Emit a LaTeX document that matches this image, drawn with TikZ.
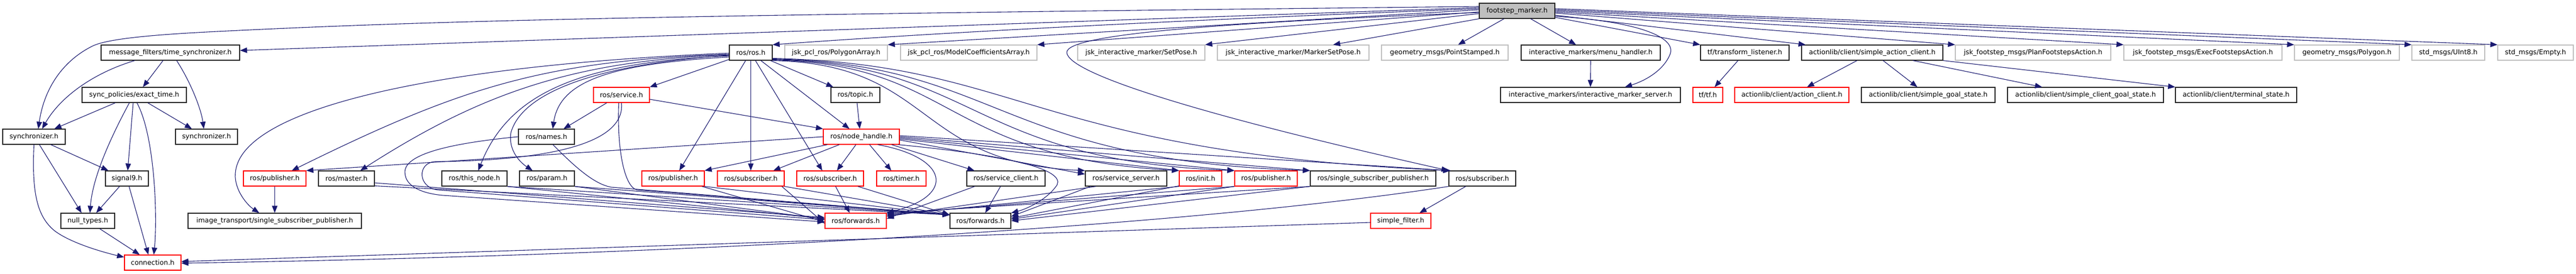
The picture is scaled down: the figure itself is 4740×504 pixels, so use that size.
\documentclass[tikz,border=0pt]{standalone}
\usepackage{fontspec}
\setmainfont{DejaVu Sans}
\usetikzlibrary{arrows.meta,calc}
\definecolor{edgec}{HTML}{191970}
\definecolor{grayb}{HTML}{BFBFBF}
\newcommand\nfs{\fontsize{6.2pt}{7pt}\selectfont}
\begin{document}
\begin{tikzpicture}[x=0.5pt,y=-0.5pt,
  nb/.style={draw=black!85, line width=0.6pt, fill=white, minimum height=14pt, inner sep=0pt, font=\nfs, text=black},
  nr/.style={nb, draw=red},
  ng/.style={nb, draw=grayb},
  nroot/.style={nb, fill=grayb},
  e/.style={draw=edgec, line width=0.55pt, -{Triangle[length=6.5pt,width=5pt]}}]
\path[use as bounding box, fill=white] (0,0) rectangle (4740,504);
% row 0
\node[nroot, minimum width=69.5pt] (fm) at (2791.5,20) {footstep\_marker.h};
% row 1
\node[nb, minimum width=127.5pt] (tsync) at (313.5,97) {message\_filters/time\_synchronizer.h};
\node[nb, minimum width=39.5pt] (ros) at (1381.5,97) {ros/ros.h};
\node[ng, minimum width=94.5pt] (polyarr) at (1538.5,97) {jsk\_pcl\_ros/PolygonArray.h};
\node[ng, minimum width=125.5pt] (modelco) at (1782.5,97) {jsk\_pcl\_ros/ModelCoefficientsArray.h};
\node[ng, minimum width=117pt] (setpose) at (2100,97) {jsk\_interactive\_marker/SetPose.h};
\node[ng, minimum width=139.5pt] (msetpose) at (2379.5,97) {jsk\_interactive\_marker/MarkerSetPose.h};
\node[ng, minimum width=116.5pt] (ptst) at (2658.5,97) {geometry\_msgs/PointStamped.h};
\node[nb, minimum width=128pt] (menu) at (2927,97) {interactive\_markers/menu\_handler.h};
\node[nb, minimum width=81.5pt] (tfl) at (3210.5,97) {tf/transform\_listener.h};
\node[nb, minimum width=130pt] (sac) at (3445,97) {actionlib/client/simple\_action\_client.h};
\node[ng, minimum width=143pt] (plan) at (3741,97) {jsk\_footstep\_msgs/PlanFootstepsAction.h};
\node[ng, minimum width=145.5pt] (exec) at (4053.5,97) {jsk\_footstep\_msgs/ExecFootstepsAction.h};
\node[ng, minimum width=96.5pt] (poly) at (4318.5,97) {geometry\_msgs/Polygon.h};
\node[ng, minimum width=67pt] (uint8) at (4505,97) {std\_msgs/UInt8.h};
\node[ng, minimum width=69.5pt] (empty) at (4665.5,97) {std\_msgs/Empty.h};
% row 2
\node[nb, minimum width=96pt] (exact) at (247,175) {sync\_policies/exact\_time.h};
\node[nr, minimum width=51.5pt] (service) at (1143.5,175) {ros/service.h};
\node[nb, minimum width=45pt] (topic) at (1574,175) {ros/topic.h};
\node[nb, minimum width=165.5pt] (ims) at (2926.5,175) {interactive\_markers/interactive\_marker\_server.h};
\node[nr, minimum width=27.5pt] (tf) at (3142.5,175) {tf/tf.h};
\node[nr, minimum width=105pt] (ac) at (3297,175) {actionlib/client/action\_client.h};
\node[nb, minimum width=123pt] (sgs) at (3548,175) {actionlib/client/simple\_goal\_state.h};
\node[nb, minimum width=143.5pt] (scgs) at (3837.5,175) {actionlib/client/simple\_client\_goal\_state.h};
\node[nb, minimum width=111.5pt] (ts) at (4114.5,175) {actionlib/client/terminal\_state.h};
% row 3
\node[nb, minimum width=57.5pt] (syncA) at (62.5,252) {synchronizer.h};
\node[nb, minimum width=57pt] (syncB) at (380,252) {synchronizer.h};
\node[nb, minimum width=51.5pt] (names) at (1005.5,252) {ros/names.h};
\node[nr, minimum width=70pt] (nh) at (1585,252) {ros/node\_handle.h};
% row 4
\node[nb, minimum width=39.5pt] (signal9) at (233.5,329) {signal9.h};
\node[nr, minimum width=57.5pt] (pubA) at (505.5,329) {ros/publisher.h};
\node[nb, minimum width=51.5pt] (master) at (637.5,329) {ros/master.h};
\node[nb, minimum width=60pt] (thisnode) at (873,329) {ros/this\_node.h};
\node[nb, minimum width=50.5pt] (param) at (1006.5,329) {ros/param.h};
\node[nr, minimum width=57.5pt] (pubB) at (1238.5,329) {ros/publisher.h};
\node[nr, minimum width=61.5pt] (subA) at (1381.5,329) {ros/subscriber.h};
\node[nr, minimum width=61.5pt] (subB) at (1527.5,329) {ros/subscriber.h};
\node[nr, minimum width=45.5pt] (timer) at (1658.5,329) {ros/timer.h};
\node[nb, minimum width=72pt] (sclient) at (1851,329) {ros/service\_client.h};
\node[nb, minimum width=75pt] (sserver) at (2072,329) {ros/service\_server.h};
\node[nr, minimum width=39pt] (init) at (2209,329) {ros/init.h};
\node[nr, minimum width=57.5pt] (pubC) at (2329.5,329) {ros/publisher.h};
\node[nb, minimum width=115.5pt] (ssp) at (2526.5,329) {ros/single\_subscriber\_publisher.h};
\node[nb, minimum width=61.5pt] (subC) at (2727.5,329) {ros/subscriber.h};
% row 5
\node[nb, minimum width=49.5pt] (nulltypes) at (161.5,407) {null\_types.h};
\node[nb, minimum width=159.5pt] (itssp) at (505.5,407) {image\_transport/single\_subscriber\_publisher.h};
\node[nr, minimum width=56.5pt] (fwdR) at (1574.5,407) {ros/forwards.h};
\node[nb, minimum width=56pt] (fwdB) at (1804,407) {ros/forwards.h};
\node[nr, minimum width=55.5pt] (sfilter) at (2577.5,407) {simple\_filter.h};
% row 6
\node[nr, minimum width=52pt] (conn) at (281,484) {connection.h};

% ---- edges from footstep_marker.h
\draw[e] ($(fm.west)+(0,-6)$) -- ($(tsync.east)+(0,-4)$);
\draw[e] ($(fm.west)+(0,-8)$) .. controls (1200,28) and (800,38) .. (400,58) .. controls (300,63) and (200,70) .. (170,85) .. controls (110,115) and (80,170) .. ($(syncA.north)+(8,0)$);
\draw[e] ($(fm.west)+(0,-4)$) .. controls (2100,40) and (1700,62) .. (ros.north east);
\draw[e] ($(fm.west)+(0,-2)$) -- (polyarr.north east);
\draw[e] ($(fm.west)+(0,2)$) -- (modelco.north east);
\draw[e] ($(fm.west)+(0,5)$) -- (setpose.north east);
\draw[e] ($(fm.west)+(0,3)$) .. controls (2300,40) and (1960,60) .. (1963,97) .. controls (1966,135) and (2200,210) .. (subC.north west);
\draw[e] (fm.south west) -- ($(msetpose.north)+(73.5,0)$);
\draw[e] ($(fm.south)+(-24,0)$) -- ($(ptst.north)+(24.5,0)$);
\draw[e] ($(fm.south)+(25,0)$) -- ($(menu.north)+(-27,0)$);
\draw[e] ($(fm.east)+(0,10)$) .. controls (3020,40) and (3085,70) .. (3073,100) .. controls (3062,128) and (3030,148) .. ($(ims.north)+(63.5,0)$);
\draw[e] ($(fm.east)+(0,12)$) -- (tfl.north west);
\draw[e] ($(fm.east)+(0,8)$) -- ($(sac.north west)+(8,0)$);
\draw[e] ($(fm.east)+(0,4)$) -- (plan.north west);
\draw[e] ($(fm.east)+(0,2)$) -- (exec.north west);
\draw[e] (fm.east) -- (poly.north west);
\draw[e] ($(fm.east)+(0,-2)$) -- (uint8.north west);
\draw[e] ($(fm.east)+(0,-4)$) -- (empty.north west);

% ---- message_filters cluster
\draw[e] ($(tsync.south)+(-65.5,0)$) .. controls (170,135) and (110,180) .. ($(syncA.north)+(15,0)$);
\draw[e] ($(tsync.south)+(-13.5,0)$) -- ($(exact.north)+(16,0)$);
\draw[e] ($(tsync.south)+(11.5,0)$) .. controls (350,150) and (370,200) .. ($(syncB.north)+(-5,0)$);
\draw[e] ($(exact.south)+(-35,0)$) -- ($(syncA.north)+(37.5,0)$);
\draw[e] ($(exact.south)+(-9,0)$) .. controls (200,260) and (170,330) .. ($(nulltypes.north)+(4,0)$);
\draw[e] ($(exact.south)+(-2,0)$) -- ($(signal9.north)+(1.5,0)$);
\draw[e] ($(exact.south)+(5,0)$) .. controls (285,250) and (290,400) .. ($(conn.north)+(2,0)$);
\draw[e] ($(exact.south)+(25,0)$) -- ($(syncB.north)+(-27,0)$);
\draw[e] ($(syncA.south)+(31,0)$) -- ($(signal9.north west)+(6,0)$);
\draw[e] ($(syncA.south)+(10,0)$) -- ($(nulltypes.north)+(-11.5,0)$);
\draw[e] (syncA.south) .. controls (58,360) and (70,400) .. (100,425) .. controls (130,448) and (190,465) .. ($(conn.west)+(0,-10)$);
\draw[e] ($(signal9.south)+(-13.5,0)$) -- ($(nulltypes.north)+(15.5,0)$);
\draw[e] ($(signal9.south)+(4,0)$) -- ($(conn.north)+(-8,0)$);
\draw[e] ($(nulltypes.south)+(22,0)$) -- ($(conn.north)+(-24,0)$);

% ---- ros/ros.h
\draw[e] ($(ros.south west)+(0,-2)$) -- (service.north east);
\draw[e] ($(ros.west)+(0,8)$) .. controls (1120,118) and (1030,150) .. ($(names.north)+(11.5,0)$);
\draw[e] ($(ros.west)+(0,6)$) .. controls (1060,115) and (935,175) .. ($(thisnode.north)+(7,0)$);
\draw[e] ($(ros.west)+(0,5)$) .. controls (1100,118) and (960,170) .. (940,245) .. controls (935,278) and (958,300) .. ($(param.north)+(-26.5,0)$);
\draw[e] ($(ros.west)+(0,3)$) .. controls (1000,112) and (850,160) .. ($(pubA.north)+(31.5,0)$);
\draw[e] ($(ros.west)+(0,4)$) .. controls (1050,112) and (880,175) .. ($(master.north)+(25.5,0)$);
\draw[e] ($(ros.west)+(0,1)$) .. controls (800,120) and (440,200) .. (433,320) .. controls (431,350) and (455,378) .. ($(itssp.north)+(-28.5,0)$);
\draw[e] ($(ros.south)+(-9.5,0)$) -- ($(pubB.north)+(11.5,0)$);
\draw[e] (ros.south) -- (subA.north);
\draw[e] ($(ros.south)+(8.5,0)$) -- ($(subB.north)+(-14.5,0)$);
\draw[e] ($(ros.south)+(18.5,0)$) -- ($(nh.north)+(-22,0)$);
\draw[e] ($(ros.south east)+(-4,0)$) -- ($(topic.north west)+(5,0)$);
\draw[e] (ros.south east) .. controls (1720,118) and (1680,300) .. (sserver.north west);
\draw[e] ($(ros.south east)+(0,-1)$) .. controls (1760,118) and (1730,290) .. (init.north west);
\draw[e] ($(ros.south east)+(0,-2)$) .. controls (1800,118) and (1780,295) .. (pubC.north west);
\draw[e] ($(ros.south east)+(0,-3)$) .. controls (1840,118) and (1830,295) .. (ssp.north west);
\draw[e] ($(ros.south east)+(0,-4)$) .. controls (1880,118) and (1900,280) .. ($(subC.north west)+(4,0)$);

% ---- topic, service, names
\draw[e] ($(topic.south)+(3,0)$) -- ($(nh.north)+(-3,0)$);
\draw[e] ($(service.south west)+(25,0)$) -- ($(names.north)+(31.5,0)$);
\draw[e] ($(service.east)+(0,8)$) -- (nh.north west);
\draw[e] (service.south) .. controls (1150,250) and (1060,295) .. (800,298) .. controls (768,300) and (768,345) .. (805,350) -- ($(fwdR.west)+(0,-2)$);
\draw[e] ($(service.south)+(-5,0)$) .. controls (1135,280) and (1150,345) .. (1172,350) -- ($(fwdB.west)+(0,-11)$);
\draw[e] (names.west) .. controls (850,262) and (745,280) .. (745,317) .. controls (745,345) and (780,357) .. (815,360) -- ($(fwdR.west)+(0,2)$);
\draw[e] ($(names.south)+(12,0)$) .. controls (1060,310) and (1095,340) .. (1125,345) -- ($(fwdB.west)+(0,-11)$);

% ---- ros/node_handle.h
\draw[e] (nh.west) -- (pubA.north east);
\draw[e] ($(nh.south west)+(8,0)$) -- (pubB.north east);
\draw[e] ($(nh.south west)+(30,0)$) -- ($(subA.north)+(41.5,0)$);
\draw[e] ($(nh.south)+(-10,0)$) -- ($(subB.north)+(12.5,0)$);
\draw[e] ($(nh.south)+(15,0)$) -- ($(timer.north)+(-18.5,0)$);
\draw[e] ($(nh.south)+(30,0)$) .. controls (1745,290) and (1760,360) .. (fwdR.north east);
\draw[e] ($(nh.south east)+(-15,0)$) -- ($(sclient.north)+(-58,0)$);
\draw[e] ($(nh.south east)+(-3,0)$) .. controls (1900,290) and (1965,320) .. (1942,345) .. controls (1925,368) and (1890,385) .. (fwdB.north east);
\draw[e] ($(nh.east)+(0,6)$) -- ($(sserver.west)+(0,-8)$);
\draw[e] ($(nh.east)+(0,4)$) -- (init.north west);
\draw[e] ($(nh.east)+(0,2)$) -- (pubC.north west);
\draw[e] (nh.east) -- (ssp.north west);
\draw[e] ($(nh.east)+(0,-2)$) -- ($(subC.north west)+(3,0)$);

% ---- row 4 to forwards
\draw[e] ($(master.east)+(0,8)$) -- ($(fwdR.west)+(0,-6)$);
\draw[e] ($(master.south east)+(0,-1)$) -- ($(fwdB.west)+(0,-11)$);
\draw[e] (thisnode.south east) -- ($(fwdR.west)+(0,-4)$);
\draw[e] (thisnode.south east) -- ($(fwdB.west)+(0,-11)$);
\draw[e] (param.south east) -- ($(fwdR.west)+(0,-3)$);
\draw[e] (param.south east) -- ($(fwdB.west)+(0,-11)$);
\draw[e] ($(pubB.south east)+(-5,0)$) -- ($(fwdR.west)+(0,2)$);
\draw[e] (pubB.south east) -- ($(fwdB.west)+(0,-11)$);
\draw[e] ($(subA.south east)+(-5,0)$) -- ($(fwdR.west)+(0,5)$);
\draw[e] (subA.south east) -- ($(fwdB.west)+(0,-11)$);
\draw[e] ($(subB.south)+(10,0)$) -- ($(fwdR.north)+(-11,0)$);
\draw[e] ($(subB.south east)+(-11,0)$) -- ($(fwdB.west)+(0,-11)$);
\draw[e] ($(sclient.south west)+(15,0)$) -- ($(fwdR.east)+(0,-4)$);
\draw[e] ($(sclient.south)+(-10,0)$) -- ($(fwdB.north)+(9,0)$);
\draw[e] ($(sserver.south west)+(20,0)$) -- ($(fwdR.east)+(0,-8)$);
\draw[e] ($(sserver.south west)+(10,0)$) -- ($(fwdB.east)+(0,-8)$);
\draw[e] (init.south west) -- ($(fwdR.east)+(0,-10)$);
\draw[e] ($(init.south west)+(0,-1)$) -- ($(fwdB.east)+(0,-5)$);
\draw[e] (pubC.south west) -- ($(fwdR.east)+(0,-12)$);
\draw[e] (pubC.south west) -- ($(fwdB.east)+(0,-3)$);
\draw[e] (ssp.south west) -- ($(fwdR.east)+(0,-14)$);
\draw[e] (ssp.south west) -- (fwdB.east);
\draw[e] ($(pubA.south)$) -- (itssp.north);

% ---- message_filters subscriber
\draw[e] ($(subC.south)+(-30.5,0)$) -- ($(sfilter.north)+(34.5,0)$);
\draw[e] (subC.south west) .. controls (2200,415) and (1300,470) .. ($(conn.east)+(0,1)$);
\draw[e] ($(sfilter.west)+(0,3)$) -- ($(conn.east)+(0,-2)$);

% ---- right cluster
\draw[e] (menu.south) -- (ims.north);
\draw[e] ($(tfl.south)+(-12.5,0)$) -- ($(tf.north)+(12.5,0)$);
\draw[e] ($(sac.south)+(-28,0)$) -- ($(ac.north)+(28,0)$);
\draw[e] ($(sac.south)+(20,0)$) -- ($(sgs.north)+(-20,0)$);
\draw[e] ($(sac.south)+(75,0)$) -- ($(scgs.north)+(-80,0)$);
\draw[e] (sac.south east) -- (ts.north west);
\end{tikzpicture}
\end{document}
